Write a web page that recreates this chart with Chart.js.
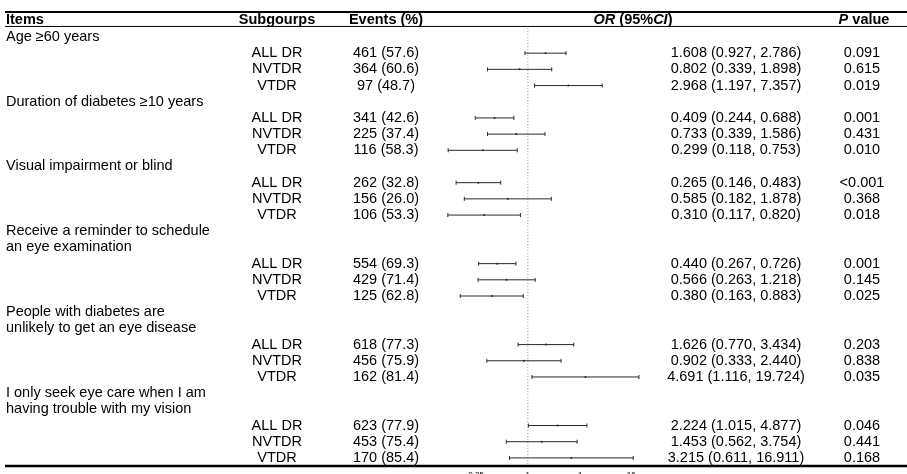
<!DOCTYPE html>
<html lang="en">
<head>
<meta charset="UTF-8">
<title>Forest plot - DR subgroups</title>
<script src="https://cdn.jsdelivr.net/npm/chart.js"></script>
<style>
  html, body { margin: 0; padding: 0; background: #ffffff; }
  #wrap { position: relative; width: 907px; height: 474px; }
</style>
</head>
<body>
<div id="wrap"><canvas id="forest"></canvas></div>
<script>
// item labels (one entry per line of the label)
const items = [
  ['Age \u226560 years'],
  ['Duration of diabetes \u226510 years'],
  ['Visual impairment or blind'],
  ['Receive a reminder to schedule', 'an eye examination'],
  ['People with diabetes are', 'unlikely to get an eye disease'],
  ['I only seek eye care when I am', 'having trouble with my vision']
];
const subgroups = ['ALL DR', 'NVTDR', 'VTDR'];

// one value per subgroup row, in item order
const events = [
  '461 (57.6)', '364 (60.6)', '97 (48.7)',
  '341 (42.6)', '225 (37.4)', '116 (58.3)',
  '262 (32.8)', '156 (26.0)', '106 (53.3)',
  '554 (69.3)', '429 (71.4)', '125 (62.8)',
  '618 (77.3)', '456 (75.9)', '162 (81.4)',
  '623 (77.9)', '453 (75.4)', '170 (85.4)'
];
const oddsRatio = [1.608, 0.802, 2.968, 0.409, 0.733, 0.299, 0.265, 0.585, 0.310,
                   0.440, 0.566, 0.380, 1.626, 0.902, 4.691, 2.224, 1.453, 3.215];
const ciLow = [0.927, 0.339, 1.197, 0.244, 0.339, 0.118, 0.146, 0.182, 0.117,
               0.267, 0.263, 0.163, 0.770, 0.333, 1.116, 1.015, 0.562, 0.611];
const ciHigh = [2.786, 1.898, 7.357, 0.688, 1.586, 0.753, 0.483, 1.878, 0.820,
                0.726, 1.218, 0.883, 3.434, 2.440, 19.724, 4.877, 3.754, 16.911];
const pValues = ['0.091', '0.615', '0.019', '0.001', '0.431', '0.010',
                 '<0.001', '0.368', '0.018', '0.001', '0.145', '0.025',
                 '0.203', '0.838', '0.035', '0.046', '0.441', '0.168'];
const xTicks = [0.25, 1, 4, 16];

// build the row layout: label lines first, then three subgroup rows
const labelRows = [];   // {row, text}
const dataRows = [];    // row index for each subgroup entry
let r = 0;
items.forEach(lines => {
  lines.forEach(t => { labelRows.push({ row: r, text: t }); r++; });
  subgroups.forEach(() => { dataRows.push(r); r++; });
});

const FONT = 'Liberation Sans, Arial, sans-serif';
const SIZE = 14.5;

const tablePlugin = {
  id: 'table',
  afterDatasetsDraw(chart) {
    const ctx = chart.ctx;
    const x = chart.scales.x, y = chart.scales.y;
    const W = chart.width;
    ctx.save();

    // reference line at OR = 1
    const x1 = x.getPixelForValue(1);
    ctx.strokeStyle = '#9a9a9a';
    ctx.lineWidth = 1;
    ctx.setLineDash([1, 2]);
    ctx.beginPath();
    ctx.moveTo(x1, y.getPixelForValue(-0.55));
    ctx.lineTo(x1, chart.chartArea.bottom);
    ctx.stroke();
    ctx.setLineDash([]);

    // confidence intervals with end caps
    ctx.strokeStyle = '#2a2a2a';
    ctx.lineWidth = 1;
    dataRows.forEach((row, i) => {
      const py = y.getPixelForValue(row);
      const a = x.getPixelForValue(ciLow[i]);
      const b = x.getPixelForValue(ciHigh[i]);
      ctx.beginPath();
      ctx.moveTo(a, py); ctx.lineTo(b, py);
      ctx.moveTo(a, py - 2); ctx.lineTo(a, py + 2);
      ctx.moveTo(b, py - 2); ctx.lineTo(b, py + 2);
      ctx.stroke();
    });

    // rules of the table
    ctx.strokeStyle = '#000000';
    ctx.lineWidth = 2;
    ctx.beginPath();
    ctx.moveTo(5, y.getPixelForValue(-1.55)); ctx.lineTo(W, y.getPixelForValue(-1.55));
    ctx.stroke();
    ctx.lineWidth = 1;
    ctx.beginPath();
    ctx.moveTo(5, y.getPixelForValue(-0.65)); ctx.lineTo(W, y.getPixelForValue(-0.65));
    ctx.stroke();
    ctx.lineWidth = 2.5;
    ctx.beginPath();
    ctx.moveTo(5, chart.chartArea.bottom); ctx.lineTo(W, chart.chartArea.bottom);
    ctx.stroke();

    // header row
    const hy = y.getPixelForValue(-1.05);
    ctx.fillStyle = '#000000';
    ctx.textBaseline = 'middle';
    ctx.font = 'bold ' + SIZE + 'px ' + FONT;
    ctx.textAlign = 'left';
    ctx.fillText('Items', 6, hy);
    ctx.textAlign = 'center';
    ctx.fillText('Subgourps', 277, hy);
    ctx.fillText('Events (%)', 386, hy);

    // "OR (95%CI)" with italic OR and CI
    const parts = [['OR', 'italic bold'], [' (95%', 'bold'], ['CI', 'italic bold'], [')', 'bold']];
    let total = 0;
    parts.forEach(p => { ctx.font = p[1] + ' ' + SIZE + 'px ' + FONT; total += ctx.measureText(p[0]).width; });
    let cx = 633 - total / 2;
    ctx.textAlign = 'left';
    parts.forEach(p => {
      ctx.font = p[1] + ' ' + SIZE + 'px ' + FONT;
      ctx.fillText(p[0], cx, hy);
      cx += ctx.measureText(p[0]).width;
    });

    // "P value" with italic P
    const pParts = [['P', 'italic bold'], [' value', 'bold']];
    total = 0;
    pParts.forEach(p => { ctx.font = p[1] + ' ' + SIZE + 'px ' + FONT; total += ctx.measureText(p[0]).width; });
    cx = 864 - total / 2;
    pParts.forEach(p => {
      ctx.font = p[1] + ' ' + SIZE + 'px ' + FONT;
      ctx.fillText(p[0], cx, hy);
      cx += ctx.measureText(p[0]).width;
    });

    // body text
    ctx.font = SIZE + 'px ' + FONT;
    ctx.textAlign = 'left';
    labelRows.forEach(l => ctx.fillText(l.text, 6, y.getPixelForValue(l.row)));
    ctx.textAlign = 'center';
    dataRows.forEach((row, i) => {
      const py = y.getPixelForValue(row);
      ctx.fillText(subgroups[i % 3], 277, py);
      ctx.fillText(events[i], 386, py);
      const txt = oddsRatio[i].toFixed(3) + ' (' + ciLow[i].toFixed(3) + ', ' + ciHigh[i].toFixed(3) + ')';
      ctx.fillText(txt, 736, py);
      ctx.fillText(pValues[i], 862, py);
    });
    ctx.restore();
  }
};

new Chart(document.getElementById('forest'), {
  type: 'scatter',
  data: {
    datasets: [{
      label: 'OR',
      data: oddsRatio.map((v, i) => ({ x: v, y: dataRows[i] })),
      pointRadius: 1,
      pointHoverRadius: 1,
      pointBackgroundColor: '#222222',
      pointBorderColor: '#222222',
      pointBorderWidth: 0
    }]
  },
  options: {
    responsive: true,
    maintainAspectRatio: false,
    animation: false,
    events: [],
    layout: { padding: { left: 442, right: 250, top: 4.6, bottom: 0 } },
    plugins: { legend: { display: false }, tooltip: { enabled: false } },
    scales: {
      x: {
        type: 'logarithmic',
        position: 'bottom',
        min: 0.1,
        max: 32,
        afterBuildTicks: s => { s.ticks = xTicks.map(v => ({ value: v })); },
        afterFit: s => { s.height = 8; },
        grid: { display: false, drawTicks: false },
        border: { display: false },
        ticks: {
          padding: 4,
          color: '#000',
          font: { size: 8, family: FONT },
          maxRotation: 0,
          autoSkip: false,
          callback: v => String(v)
        }
      },
      y: {
        type: 'linear',
        display: false,
        reverse: true,
        min: -2,
        max: 26.5
      }
    }
  },
  plugins: [tablePlugin]
});
</script>
</body>
</html>
